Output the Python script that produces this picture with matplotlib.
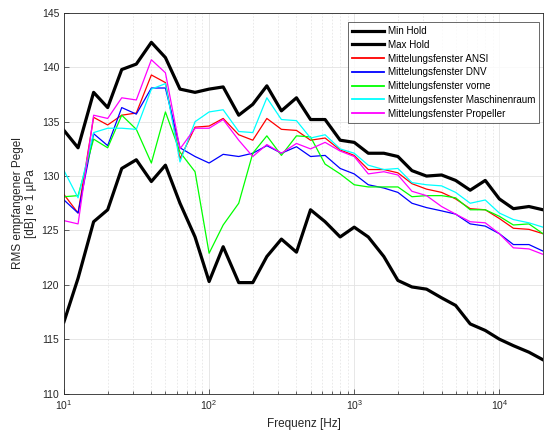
import numpy as np
import matplotlib.pyplot as plt

# ── Data (third-octave bands) ────────────────────────────────────────────────
FREQ_HZ = [10, 12.5, 16, 20, 25, 31.5, 40, 50, 63, 80, 100, 125, 160, 200, 250,
           315, 400, 500, 630, 800, 1000, 1250, 1600, 2000, 2500, 3150, 4000,
           5000, 6300, 8000, 10000, 12500, 16000, 20000]

MIN_HOLD = [116.6, 120.6, 125.8, 126.9, 130.7, 131.5, 129.5, 131.0, 127.5, 124.4,
            120.3, 123.5, 120.2, 120.2, 122.6, 124.2, 123.0, 126.9, 125.8, 124.4,
            125.3, 124.4, 122.6, 120.4, 119.8, 119.6, 118.8, 118.1, 116.4, 115.8,
            115.0, 114.4, 113.8, 113.1]
MAX_HOLD = [134.2, 132.6, 137.7, 136.3, 139.8, 140.3, 142.3, 140.9, 138.0, 137.7,
            138.0, 138.2, 135.6, 136.6, 138.3, 136.0, 137.2, 135.2, 135.2, 133.3,
            133.1, 132.1, 132.1, 131.8, 130.5, 130.0, 130.1, 129.6, 128.7, 129.6,
            127.9, 127.0, 127.2, 126.9]
ANSI = [128.3, 126.6, 135.4, 134.7, 135.6, 135.8, 139.3, 138.6, 131.6, 134.5,
        134.6, 135.3, 133.8, 133.3, 135.3, 134.3, 134.2, 133.3, 133.5, 132.4,
        131.9, 130.6, 130.6, 130.3, 129.3, 128.8, 128.5, 127.9, 127.0, 126.9,
        126.1, 125.2, 125.1, 124.7]
DNV = [127.8, 126.6, 133.9, 132.8, 136.3, 135.7, 138.1, 138.1, 132.6, 131.8,
       131.2, 132.0, 131.8, 132.1, 132.8, 132.1, 132.7, 131.8, 131.9, 130.7,
       130.2, 129.2, 128.9, 128.5, 127.5, 127.1, 126.8, 126.5, 125.6, 125.4,
       124.7, 123.7, 123.7, 123.1]
VORNE = [128.1, 128.2, 133.4, 132.6, 135.6, 134.3, 131.2, 135.9, 132.2, 130.4,
         122.9, 125.5, 127.5, 132.1, 133.7, 131.9, 133.7, 133.6, 131.1, 130.2,
         129.2, 129.0, 129.0, 129.0, 128.1, 128.2, 128.2, 128.0, 126.9, 126.9,
         126.3, 125.5, 125.6, 124.7]
MASCHINENRAUM = [130.5, 128.0, 134.0, 134.4, 134.4, 134.3, 138.0, 138.5, 131.3, 135.0,
                 135.9, 136.1, 134.1, 134.0, 137.2, 135.2, 135.1, 133.5, 133.8, 132.5,
                 132.1, 131.0, 130.6, 130.7, 129.4, 129.2, 129.1, 128.5, 127.5, 127.8,
                 126.6, 126.0, 125.7, 125.3]
PROPELLER = [125.9, 125.6, 135.6, 135.3, 137.2, 137.0, 140.7, 139.5, 132.5, 134.4,
             134.4, 135.2, 133.3, 131.8, 132.9, 132.1, 133.0, 132.5, 133.1, 132.3,
             131.8, 130.2, 130.4, 130.1, 128.6, 128.2, 127.2, 126.5, 125.8, 125.7,
             124.7, 123.4, 123.3, 122.8]

Y_TICKS = [110, 115, 120, 125, 130, 135, 140, 145]

plt.rcParams['font.family'] = ['Liberation Sans', 'DejaVu Sans']

fig = plt.figure(figsize=(5.44, 4.32), dpi=100)
ax = fig.add_axes([64 / 544, 1 - 393.5 / 432, (543 - 64) / 544, (393.5 - 13) / 432])

ax.semilogx(FREQ_HZ, MIN_HOLD, color='black', lw=2.3, label='Min Hold')
ax.semilogx(FREQ_HZ, MAX_HOLD, color='black', lw=2.3, label='Max Hold')
ax.semilogx(FREQ_HZ, ANSI, color='#ff0000', lw=0.9, label='Mittelungsfenster ANSI')
ax.semilogx(FREQ_HZ, DNV, color='#0000ff', lw=0.9, label='Mittelungsfenster DNV')
ax.semilogx(FREQ_HZ, VORNE, color='#00ff00', lw=0.9, label='Mittelungsfenster vorne')
ax.semilogx(FREQ_HZ, MASCHINENRAUM, color='#00ffff', lw=0.9,
            label='Mittelungsfenster Maschinenraum')
ax.semilogx(FREQ_HZ, PROPELLER, color='#ff00ff', lw=0.9,
            label='Mittelungsfenster Propeller')

ax.set_xlim(10, 2e4)
ax.set_ylim(110, 145)
ax.set_yticks(Y_TICKS)

ax.grid(True, which='major', color='#e3e3e3', lw=0.6)
ax.grid(True, which='minor', axis='x', color='#e6e6e6', lw=0.6, ls=(0, (2, 2)))
ax.set_axisbelow(True)

for s in ax.spines.values():
    s.set_color('#262626')
    s.set_linewidth(0.6)
ax.tick_params(which='both', direction='in', colors='#262626', labelsize=7.5,
               width=0.5, top=False, right=False)
ax.tick_params(which='major', length=3.5)
ax.tick_params(which='minor', length=2)

ax.set_xlabel('Frequenz [Hz]', fontsize=8.5, color='#262626', labelpad=4)
ax.set_ylabel('RMS empfangener Pegel\n[dB] re 1 µPa', fontsize=8.5, color='#262626',
              labelpad=3)

leg = ax.legend(loc='upper right', bbox_to_anchor=(0.9916, 0.976), fontsize=7.1,
                frameon=True, fancybox=False, handlelength=3.3, handletextpad=0.35,
                borderpad=0.4, labelspacing=0.38, borderaxespad=0.0)
leg.get_frame().set_edgecolor('#262626')
leg.get_frame().set_linewidth(0.6)
for line in leg.get_lines()[2:]:
    line.set_linewidth(1.3)

fig.savefig('out.png', dpi=100)
